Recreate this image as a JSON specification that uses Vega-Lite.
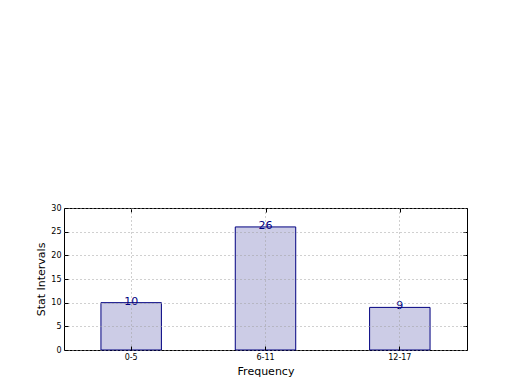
{
  "$schema": "https://vega.github.io/schema/vega-lite/v6.json",
  "width": 403,
  "height": 142,
  "autosize": "none",
  "padding": {"left": 64, "top": 208, "right": 53, "bottom": 40},
  "background": "white",
  "config": {
    "view": {"stroke": "black", "strokeWidth": 1},
    "font": "DejaVu Sans",
    "axis": {
      "labelFont": "DejaVu Sans",
      "titleFont": "DejaVu Sans",
      "labelFontSize": 8,
      "titleFontSize": 11,
      "titleFontWeight": "normal",
      "labelColor": "black",
      "titleColor": "black",
      "domain": false,
      "tickColor": "black",
      "tickSize": -4,
      "labelPadding": 7,
      "gridColor": "#a0a0a0",
      "gridDash": [1, 3],
      "gridWidth": 1
    }
  },
  "data": {
    "values": [
      {"interval": "0-5", "count": 10},
      {"interval": "6-11", "count": 26},
      {"interval": "12-17", "count": 9}
    ]
  },
  "layer": [
    {
      "mark": {"type": "bar", "fill": "#ccccE6", "stroke": "#000080", "strokeWidth": 1},
      "encoding": {
        "x": {
          "field": "interval", "type": "nominal", "sort": null,
          "scale": {"paddingInner": 0.55, "paddingOuter": 0.275},
          "axis": {"title": "Frequency", "labelAngle": 0, "grid": true, "zindex": 1, "bandPosition": 0.5, "titlePadding": 4}
        },
        "y": {
          "field": "count", "type": "quantitative",
          "scale": {"domain": [0, 30], "nice": false},
          "axis": {"title": "Stat Intervals", "values": [0, 5, 10, 15, 20, 25, 30], "grid": true, "zindex": 1, "titlePadding": 4}
        }
      }
    },
    {
      "mark": {"type": "text", "color": "#000080", "fontSize": 11, "baseline": "alphabetic", "dy": 2},
      "encoding": {
        "x": {
          "field": "interval", "type": "nominal", "sort": null,
          "scale": {"paddingInner": 0.55, "paddingOuter": 0.275},
          "axis": {"orient": "top", "labels": false, "title": null, "grid": false, "bandPosition": 0.5}
        },
        "y": {
          "field": "count", "type": "quantitative",
          "scale": {"domain": [0, 30], "nice": false},
          "axis": {"orient": "right", "labels": false, "title": null, "grid": false, "values": [0, 5, 10, 15, 20, 25, 30]}
        },
        "text": {"field": "count", "type": "quantitative"}
      }
    }
  ],
  "resolve": {"scale": {"x": "independent", "y": "independent"}}
}
